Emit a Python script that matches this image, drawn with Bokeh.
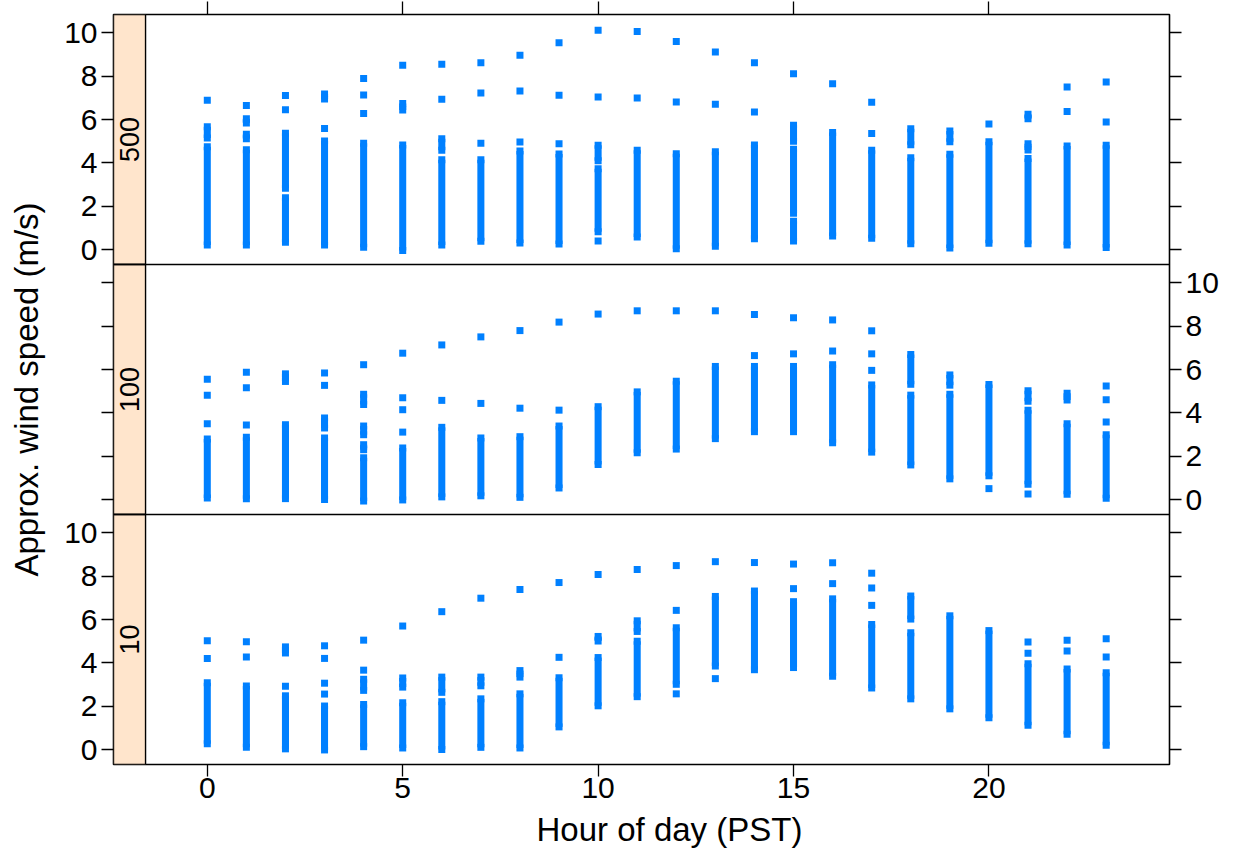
import math
from bokeh.plotting import figure
from bokeh.models import (Range1d, FixedTicker, LinearAxis, CustomJSTickFormatter,
                          Span, Title)
from bokeh.core.properties import value
from bokeh.embed import file_html
from bokeh.resources import INLINE

# ---------------- data ----------------
# panel "500": isolated points
pts500_hour = [0, 1, 2, 2, 3, 4, 4, 4, 5, 6, 6, 7, 7, 7, 8, 8, 8, 9, 9, 9,
               10, 10, 10, 11, 11, 12, 12, 13, 13, 14, 14, 15, 16, 17, 17,
               20, 22, 22, 23, 23]
pts500_val = [6.88, 6.64, 7.10, 6.45, 5.59, 7.89, 7.13, 6.28, 8.50, 8.54, 6.93,
              8.61, 7.22, 4.91, 8.96, 7.31, 4.97, 9.53, 7.11, 4.88,
              10.11, 7.03, 0.41, 10.05, 6.99, 9.59, 6.81, 9.11, 6.70, 8.61, 6.34,
              8.10, 7.65, 6.79, 5.36, 5.79, 7.50, 6.37, 7.73, 5.88]
# panel "500": dense runs of points (hour, top, bottom)
run500_hour = [0, 0, 1, 1, 1, 2, 2, 3, 3, 4, 5, 5, 6, 6, 7, 8, 9, 10, 10, 11,
               12, 13, 14, 15, 15, 15, 16, 17, 18, 18, 19, 19, 20, 21, 21, 21,
               22, 23]
run500_hi = [5.67, 4.75, 6.03, 5.32, 4.61, 5.37, 2.40, 7.17, 5.01, 4.91, 6.74,
             4.83, 5.11, 4.15, 4.15, 4.55, 4.41, 4.81, 3.74, 4.58,
             4.43, 4.52, 4.83, 5.74, 4.63, 1.32, 5.40, 4.58, 5.57, 4.24, 5.47,
             4.40, 4.98, 6.24, 4.88, 4.21, 4.78, 4.81]
run500_lo = [5.15, 0.23, 5.84, 5.11, 0.23, 2.84, 0.35, 6.94, 0.23, 0.12, 6.44,
             -0.03, 4.58, 0.23, 0.40, 0.32, 0.27, 4.10, 0.84, 0.60,
             0.06, 0.17, 0.52, 5.00, 1.69, 0.41, 0.64, 0.54, 4.84, 0.29, 4.98,
             0.09, 0.31, 6.03, 4.60, 0.29, 0.23, 0.11]

# panel "100"
pts100_hour = [0, 0, 0, 1, 1, 1, 3, 3, 4, 5, 5, 5, 5, 6, 6, 7, 7, 8, 8, 9, 9,
               10, 11, 12, 13, 14, 14, 15, 15, 16, 16, 17, 17, 17, 20, 21,
               23, 23, 23]
pts100_val = [5.55, 4.82, 3.50, 5.87, 5.16, 3.45, 5.84, 5.27, 6.22, 6.75, 4.70,
              4.15, 3.12, 7.13, 4.58, 7.50, 4.44, 7.79, 4.22, 8.18, 4.13,
              8.55, 8.70, 8.70, 8.70, 8.53, 6.64, 8.38, 6.72, 8.28, 6.85,
              7.78, 6.72, 5.96, 0.52, 0.27, 5.24, 4.61, 3.58]
run100_hour = [0, 1, 2, 2, 3, 3, 4, 4, 4, 4, 5, 6, 7, 8, 9, 10, 11, 12, 13, 14,
               15, 16, 17, 18, 18, 19, 19, 20, 21, 21, 22, 22, 23]
run100_hi = [2.80, 2.88, 5.80, 3.46, 3.77, 2.85, 4.86, 3.40, 2.54, 1.94, 2.39,
             3.34, 2.85, 2.91, 3.40, 4.29, 4.97, 5.46, 6.14, 6.14,
             6.14, 6.22, 5.29, 6.69, 4.82, 5.75, 4.86, 5.31, 5.02, 4.12, 4.91,
             3.51, 3.00]
run100_lo = [0.09, 0.05, 5.45, 0.06, 3.31, 0.02, 4.39, 3.00, 2.31, -0.05, 0.00,
             0.14, 0.19, 0.12, 0.55, 1.63, 2.17, 2.34, 2.82, 3.14,
             3.14, 2.63, 2.20, 5.32, 1.61, 5.28, 0.97, 1.11, 4.54, 0.72, 4.60,
             0.26, 0.08]

# panel "10"
pts10_hour = [0, 0, 1, 1, 2, 3, 3, 3, 3, 4, 4, 5, 6, 7, 8, 9, 9, 10, 11,
              12, 12, 12, 13, 13, 14, 15, 15, 16, 16, 17, 17, 17,
              21, 21, 22, 22, 23, 23]
pts10_val = [5.02, 4.21, 4.98, 4.28, 2.93, 4.79, 4.21, 3.07, 2.57, 5.05, 3.67,
             5.70, 6.36, 6.98, 7.38, 7.70, 4.26, 8.07, 8.30,
             8.48, 6.42, 2.58, 8.66, 3.28, 8.62, 8.55, 7.42, 8.61, 7.65,
             8.13, 7.45, 6.65, 4.96, 4.45, 5.05, 4.55, 5.12, 4.28]
run10_hour = [0, 1, 2, 2, 3, 4, 4, 5, 5, 6, 6, 7, 7, 8, 8, 9, 10, 10, 11, 11,
              12, 13, 14, 15, 16, 17, 18, 18, 19, 20, 21, 22, 23]
run10_hi = [3.09, 2.94, 4.74, 2.49, 2.02, 3.25, 2.09, 3.31, 2.17, 3.35, 2.22,
            3.35, 2.35, 3.65, 2.58, 3.32, 5.22, 4.25, 5.94, 5.00,
            5.62, 7.06, 7.31, 6.82, 6.95, 5.77, 7.08, 5.39, 6.17, 5.49, 3.97,
            3.72, 3.55]
run10_lo = [0.28, 0.12, 4.46, 0.05, 0.00, 2.74, 0.15, 2.89, 0.09, 2.65, 0.02,
            2.95, 0.12, 3.35, 0.09, 1.06, 5.01, 2.03, 5.45, 2.45,
            3.02, 3.86, 3.69, 3.79, 3.39, 2.85, 6.02, 2.35, 1.89, 1.48, 1.14,
            0.72, 0.22]

panel_names = ["500", "100", "10"]
x_ticks = [0, 5, 10, 15, 20]
y_ticks = [0, 2, 4, 6, 8, 10]

# ---------------- layout constants ----------------
YLO, YHI = -0.67, 10.83          # per-panel y limits
PH = YHI - YLO                   # panel height in data units
OFFS = {"500": 2 * PH, "100": PH, "10": 0.0}
XLO, XHI = -2.40, 24.62
STRIP_R = -1.58
BLUE = "#0080ff"
FONT = "Liberation Sans"

p = figure(width=1229, height=859, x_range=Range1d(XLO, XHI),
           y_range=Range1d(YLO, YLO + 3 * PH),
           output_backend="svg", toolbar_location=None,
           min_border_left=113, min_border_right=60,
           min_border_top=14, min_border_bottom=95)
p.xgrid.visible = False
p.ygrid.visible = False
p.outline_line_color = "black"
p.outline_line_width = 1.6
p.background_fill_color = "white"
p.border_fill_color = "white"

data = {
    "500": (pts500_hour, pts500_val, run500_hour, run500_hi, run500_lo),
    "100": (pts100_hour, pts100_val, run100_hour, run100_hi, run100_lo),
    "10": (pts10_hour, pts10_val, run10_hour, run10_hi, run10_lo),
}

for name in panel_names:
    off = OFFS[name]
    ph, pv, rh, rhi, rlo = data[name]
    # strip
    p.quad(left=[XLO], right=[STRIP_R], bottom=[YLO + off], top=[YHI + off],
           fill_color="#ffe5cc", line_color="black", line_width=1.4)
    p.text(x=[(XLO + STRIP_R) / 2], y=[(YLO + YHI) / 2 + off], text=[name],
           angle=math.pi / 2, text_align="center", text_baseline="middle",
           text_font=value(FONT), text_font_size="27px", text_color="black")
    # dense runs
    p.vbar(x=rh, width=0.18, bottom=[v + off for v in rlo],
           top=[v + off for v in rhi], fill_color=BLUE, line_color=None)
    p.scatter(x=rh + rh, y=[v + off for v in rhi] + [v + off for v in rlo],
              marker="square", size=7, fill_color=BLUE, line_color=None)
    # isolated points
    p.scatter(x=ph, y=[v + off for v in pv], marker="square", size=7,
              fill_color=BLUE, line_color=None)

# panel separators
for loc in (YHI, YHI + PH):
    p.add_layout(Span(location=loc, dimension="width", line_color="black",
                      line_width=1.6))

# y ticks for all three panels
all_yticks = [t + OFFS[n] for n in panel_names for t in y_ticks]

left_fmt = CustomJSTickFormatter(code="""
if (tick > 11 && tick < 22) { return ''; }
const v = tick >= 22 ? tick - 23 : tick;
return String(Math.round(v));
""")
right_fmt = CustomJSTickFormatter(code="""
if (tick > 11 && tick < 22) { return String(Math.round(tick - 11.5)); }
return '';
""")

def style_axis(ax):
    ax.axis_line_color = None
    ax.major_tick_line_color = "black"
    ax.major_tick_line_width = 1.3
    ax.major_tick_in = 0
    ax.minor_tick_line_color = None
    ax.major_label_text_font = FONT
    ax.major_label_text_font_size = "30px"
    ax.major_label_text_color = "black"
    ax.axis_label_text_font = FONT
    ax.axis_label_text_font_size = "33px"
    ax.axis_label_text_font_style = "normal"
    ax.axis_label_text_color = "black"

ly = p.yaxis[0]
ly.ticker = FixedTicker(ticks=all_yticks)
ly.formatter = left_fmt
style_axis(ly)
ly.major_tick_out = 12
ly.major_label_standoff = 4
ly.axis_label = "Approx. wind speed (m/s)"
ly.axis_label_standoff = 16

ry = LinearAxis(ticker=FixedTicker(ticks=all_yticks), formatter=right_fmt)
style_axis(ry)
ry.major_tick_out = 12
ry.major_label_standoff = 4
p.add_layout(ry, "right")

bx = p.xaxis[0]
bx.ticker = FixedTicker(ticks=x_ticks)
style_axis(bx)
bx.major_tick_out = 12
bx.major_label_standoff = 1

tx = LinearAxis(ticker=FixedTicker(ticks=x_ticks),
                formatter=CustomJSTickFormatter(code="return '';"))
style_axis(tx)
tx.major_tick_out = 13
tx.major_label_standoff = 0
tx.major_label_text_font_size = "1px"
p.add_layout(tx, "above")

# x axis title, placed where the reference has it
p.add_layout(Title(text="Hour of day (PST)", align="left", offset=423,
                   text_font=FONT, text_font_size="33px",
                   text_font_style="normal", text_color="black",
                   standoff=16), "below")

open("out.html", "w").write(file_html(p, INLINE))
